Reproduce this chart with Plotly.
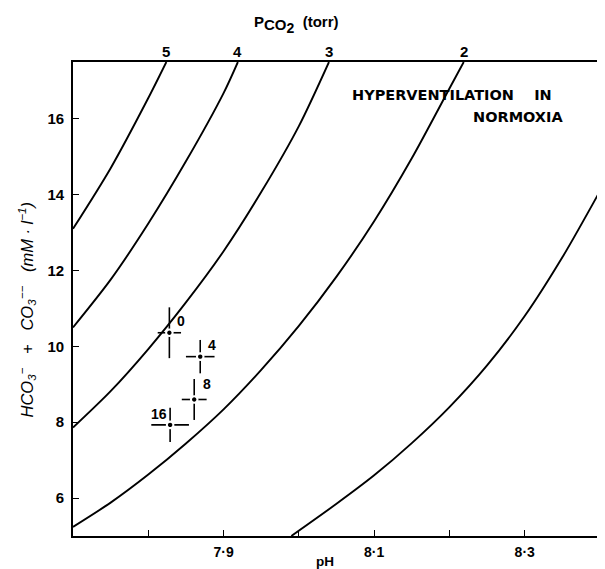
import plotly.graph_objects as go

# ---- data ----
# isopleth curves: pH vs HCO3- + CO3-- (mM/l) for fixed PCO2 (torr)
c5_ph = [7.70, 7.75, 7.80, 7.824]
c5_val = [13.1, 14.7, 16.55, 17.5]
c4_ph = [7.70, 7.75, 7.80, 7.85, 7.90, 7.919]
c4_val = [10.5, 11.76, 13.24, 14.88, 16.68, 17.5]
c3_ph = [7.70, 7.75, 7.80, 7.85, 7.90, 7.95, 8.00, 8.04]
c3_val = [7.86, 8.82, 9.93, 11.16, 12.51, 14.07, 15.81, 17.5]
c2_ph = [7.70, 7.75, 7.80, 7.85, 7.90, 7.95, 8.00, 8.05, 8.10, 8.15, 8.20, 8.219]
c2_val = [5.24, 5.88, 6.62, 7.44, 8.34, 9.38, 10.54, 11.84, 13.3, 14.96, 16.8, 17.5]
c1_ph = [7.99, 8.05, 8.10, 8.15, 8.20, 8.25, 8.30, 8.35, 8.40]
c1_val = [5.0, 5.85, 6.6, 7.45, 8.4, 9.5, 10.8, 12.35, 14.1]
curve_labels = ["5", "4", "3", "2", "1"]

# measured points (minutes of hyperventilation)
pt_labels = ["0", "4", "8", "16"]
pt_ph = [7.828, 7.869, 7.861, 7.829]
pt_val = [10.36, 9.73, 8.60, 7.93]
pt_ph_err = [0.0155, 0.019, 0.0165, 0.025]
pt_val_err = [0.67, 0.44, 0.54, 0.45]

x_ticks = [7.8, 7.9, 8.0, 8.1, 8.2, 8.3]
x_ticktext = ["", "7·9", "", "8·1", "", "8·3"]
y_ticks = [6, 8, 10, 12, 14, 16]

FONT = "Liberation Sans"
fig = go.Figure()

curves = [(c5_ph, c5_val), (c4_ph, c4_val), (c3_ph, c3_val), (c2_ph, c2_val), (c1_ph, c1_val)]
for (px, py) in curves:
    fig.add_trace(go.Scatter(x=px, y=py, mode="lines",
                             line=dict(color="black", width=1.9, shape="spline", smoothing=0.8),
                             hoverinfo="skip", showlegend=False))

fig.add_trace(go.Scatter(
    x=pt_ph, y=pt_val, mode="markers",
    marker=dict(color="black", size=6.5, line=dict(color="white", width=2.1)),
    error_x=dict(type="data", array=pt_ph_err, color="black", thickness=1.6, width=0),
    error_y=dict(type="data", array=pt_val_err, color="black", thickness=1.6, width=0),
    showlegend=False))

ann = []
# curve labels above the top frame
for lab, (px, py) in zip(curve_labels[:4], curves[:4]):
    ann.append(dict(x=px[-1], y=1.0, xref="x", yref="paper", text=lab, showarrow=False,
                    xanchor="center", yanchor="bottom", yshift=0,
                    font=dict(family=FONT, size=15, color="black", weight="bold")))
ann.append(dict(x=c1_ph[-1], y=c1_val[-1], xref="x", yref="y", text=curve_labels[4],
                showarrow=False, xanchor="left", yanchor="middle", xshift=-2, yshift=7,
                borderpad=0,
                font=dict(family=FONT, size=11, color="black", weight="bold")))

# point labels
lab_pos = [(7.836, 10.66, "left"), (7.876, 10.05, "left"), (7.870, 9.0, "left"), (7.827, 8.21, "right")]
for lab, (lx, ly, anchor) in zip(pt_labels, lab_pos):
    ann.append(dict(x=lx, y=ly, xref="x", yref="y", text=lab, showarrow=False,
                    xanchor=anchor, yanchor="middle",
                    font=dict(family=FONT, size=14, color="black", weight="bold")))

# text block
ann.append(dict(x=0.525, y=0.931, xref="paper", yref="paper", text="HYPERVENTILATION    IN",
                showarrow=False, xanchor="left", yanchor="middle",
                font=dict(family="DejaVu Sans", size=14.5, color="black", weight="bold")))
ann.append(dict(x=0.755, y=0.883, xref="paper", yref="paper", text="NORMOXIA",
                showarrow=False, xanchor="left", yanchor="middle",
                font=dict(family="DejaVu Sans", size=14.5, color="black", weight="bold")))

# top title
ann.append(dict(x=0.424, y=1.0, xref="paper", yref="paper",
                text="P<sub><span style='font-size:15px'>CO<sub><span style='font-size:14px'>2</span></sub></span></sub>  (torr)",
                showarrow=False, xanchor="center", yanchor="bottom", yshift=24,
                font=dict(family=FONT, size=15, color="black", weight="bold")))
# bottom title
ann.append(dict(x=0.478, y=0.0, xref="paper", yref="paper", text="pH", showarrow=False,
                xanchor="center", yanchor="top", yshift=-17, borderpad=0,
                font=dict(family=FONT, size=13.5, color="black", weight="bold")))
# y title
ann.append(dict(x=-0.087, y=10.95, xref="paper", yref="y",
                text="<i>HCO<sub>3</sub><sup>−</sup>   +   CO<sub>3</sub><sup>−−</sup>   (mM · l<sup>−1</sup>)</i>",
                showarrow=False, textangle=-90, xanchor="center", yanchor="middle",
                font=dict(family=FONT, size=16.5, color="black")))

fig.update_layout(
    width=605, height=569,
    margin=dict(l=65, r=11, t=54, b=41),
    paper_bgcolor="white", plot_bgcolor="white",
    annotations=ann,
    xaxis=dict(range=[7.7, 8.4], tickvals=x_ticks, ticktext=x_ticktext,
               ticks="inside", ticklen=6, tickwidth=1.2, tickcolor="black",
               showline=True, linecolor="black", linewidth=1.6, mirror=True,
               showgrid=False, zeroline=False, ticklabelstandoff=2,
               tickfont=dict(family=FONT, size=14, color="black", weight="bold")),
    yaxis=dict(range=[5, 17.5], tickvals=y_ticks,
               ticks="inside", ticklen=6, tickwidth=1.2, tickcolor="black",
               showline=True, linecolor="black", linewidth=1.6, mirror=True,
               showgrid=False, zeroline=False, ticklabelstandoff=4,
               tickfont=dict(family=FONT, size=15, color="black", weight="bold")),
)

fig.write_html("out.html")
